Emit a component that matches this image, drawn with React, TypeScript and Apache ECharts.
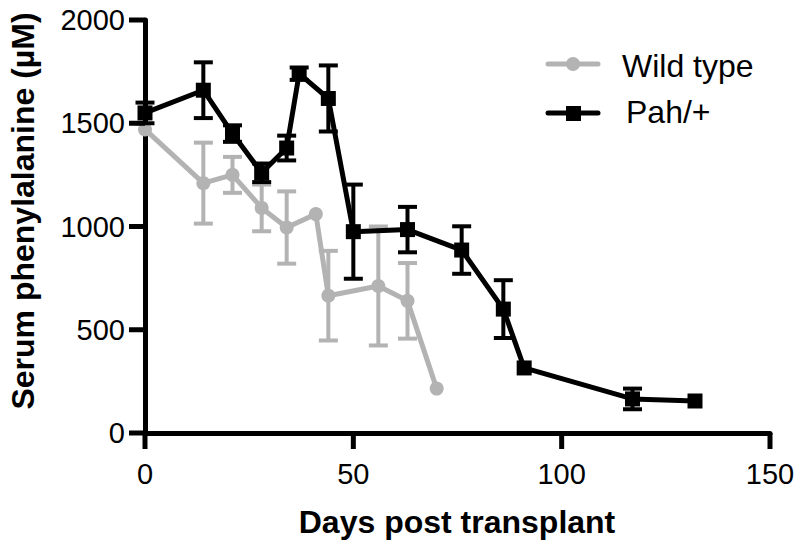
import React, { useEffect, useRef } from "react";
import * as echarts from "echarts";

// Days post transplant
const pahDays = [0, 14, 21, 28, 34, 37, 44, 50, 63, 76, 86, 91, 117, 132];
const pahMean = [1550, 1660, 1450, 1260, 1380, 1740, 1620, 975, 985, 886, 600, 315, 165, 155];
const pahErr = [50, 135, 40, 45, 60, 30, 160, 228, 110, 115, 140, 0, 50, 0];

const wtDays = [0, 14, 21, 28, 34, 41, 44, 56, 63, 70];
const wtMean = [1470, 1210, 1250, 1090, 995, 1060, 665, 712, 640, 215];
const wtErr = [0, 196, 87, 113, 175, 0, 217, 288, 183, 0];

const xTicks = [0, 50, 100, 150];
const yTicks = [0, 500, 1000, 1500, 2000];

const seriesNames = ["Wild type", "Pah/+"];
const xTitle = "Days post transplant";
const yTitle = "Serum phenylalanine (µM)";

const GRAY = "#b3b3b3";
const BLACK = "#000000";
const FONT = "'Liberation Sans', Arial, Helvetica, sans-serif";
const TICK_LEN = 16;

function errorSeries(days: number[], mean: number[], err: number[], color: string, z: number) {
  const data = days
    .map((d, i) => [d, mean[i] - err[i], mean[i] + err[i], err[i]])
    .filter((r) => r[3] > 0);
  return {
    type: "custom",
    z,
    silent: true,
    data,
    encode: { x: 0, y: [1, 2] },
    renderItem: (_params: any, api: any) => {
      const x = api.value(0);
      const lo = api.coord([x, api.value(1)]);
      const hi = api.coord([x, api.value(2)]);
      const hw = 9.5;
      const st = { stroke: color, lineWidth: 4 };
      return {
        type: "group",
        children: [
          { type: "line", shape: { x1: lo[0], y1: lo[1], x2: hi[0], y2: hi[1] }, style: st },
          { type: "line", shape: { x1: hi[0] - hw, y1: hi[1], x2: hi[0] + hw, y2: hi[1] }, style: st },
          { type: "line", shape: { x1: lo[0] - hw, y1: lo[1], x2: lo[0] + hw, y2: lo[1] }, style: st },
        ],
      };
    },
  };
}

export default function App() {
  const ref = useRef<HTMLDivElement>(null);
  useEffect(() => {
    if (!ref.current) return;
    const chart = echarts.init(ref.current, null, { renderer: "svg" });
    const axisLine = { show: true, lineStyle: { color: BLACK, width: 5 } };
    const labelStyle = {
      show: true,
      color: BLACK,
      fontSize: 29,
      fontFamily: FONT,
      formatter: (v: number) => String(v),
    };
    const staticGraphic: any[] = [
      {
        type: "text",
        x: 457,
        y: 522,
        style: {
          text: xTitle,
          fill: BLACK,
          font: `bold 32px ${FONT}`,
          align: "center",
          verticalAlign: "middle",
        },
      },
      {
        type: "text",
        x: 23,
        y: 211,
        rotation: Math.PI / 2,
        style: {
          text: yTitle,
          fill: BLACK,
          font: `bold 32px ${FONT}`,
          align: "center",
          verticalAlign: "middle",
        },
      },
      // legend
      { type: "line", shape: { x1: 548, y1: 64, x2: 598, y2: 64 }, style: { stroke: GRAY, lineWidth: 5, lineCap: "round" } },
      { type: "circle", shape: { cx: 573, cy: 64, r: 7 }, style: { fill: GRAY } },
      {
        type: "text",
        x: 622,
        y: 66,
        style: { text: seriesNames[0], fill: BLACK, font: `32px ${FONT}`, align: "left", verticalAlign: "middle" },
      },
      { type: "line", shape: { x1: 548, y1: 113, x2: 598, y2: 113 }, style: { stroke: BLACK, lineWidth: 5, lineCap: "round" } },
      { type: "rect", shape: { x: 566, y: 106, width: 15, height: 15 }, style: { fill: BLACK } },
      {
        type: "text",
        x: 626,
        y: 112,
        style: { text: seriesNames[1], fill: BLACK, font: `32px ${FONT}`, align: "left", verticalAlign: "middle" },
      },
    ];
    chart.setOption({
      animation: false,
      backgroundColor: "#ffffff",
      grid: { left: 145, right: 30, top: 20, bottom: 115 },
      xAxis: {
        type: "value",
        min: 0,
        max: 150,
        interval: 50,
        axisLine,
        splitLine: { show: false },
        axisTick: { show: false },
        axisLabel: { ...labelStyle, margin: 26, customValues: xTicks },
      },
      yAxis: {
        type: "value",
        min: 0,
        max: 2000,
        interval: 500,
        axisLine,
        splitLine: { show: false },
        axisTick: { show: false },
        axisLabel: { ...labelStyle, margin: 20, customValues: yTicks },
      },
      graphic: staticGraphic,
      series: [
        errorSeries(wtDays, wtMean, wtErr, GRAY, 1),
        {
          name: seriesNames[0],
          type: "line",
          z: 2,
          data: wtDays.map((d, i) => [d, wtMean[i]]),
          symbol: "circle",
          symbolSize: 14,
          showSymbol: true,
          lineStyle: { color: GRAY, width: 5 },
          itemStyle: { color: GRAY },
        },
        errorSeries(pahDays, pahMean, pahErr, BLACK, 3),
        {
          name: seriesNames[1],
          type: "line",
          z: 4,
          data: pahDays.map((d, i) => [d, pahMean[i]]),
          symbol: "rect",
          symbolSize: 15,
          showSymbol: true,
          lineStyle: { color: BLACK, width: 5 },
          itemStyle: { color: BLACK },
        },
      ],
    });
    // tick marks positioned through the chart's own scales
    const ticks: any[] = [];
    xTicks.forEach((v) => {
      const p = chart.convertToPixel({ gridIndex: 0 }, [v, 0]) as number[];
      ticks.push({
        type: "rect",
        z: 10,
        shape: { x: p[0] - 2.5, y: p[1], width: 5, height: TICK_LEN },
        style: { fill: BLACK },
      });
    });
    yTicks.forEach((v) => {
      const p = chart.convertToPixel({ gridIndex: 0 }, [0, v]) as number[];
      ticks.push({
        type: "rect",
        z: 10,
        shape: { x: p[0] - TICK_LEN, y: p[1] - 2.5, width: TICK_LEN, height: 5 },
        style: { fill: BLACK },
      });
    });
    chart.setOption({ graphic: [...staticGraphic, ...ticks] });
    return () => chart.dispose();
  }, []);
  return <div ref={ref} style={{ width: 800, height: 548, position: "absolute", left: 0, top: 0 }} />;
}
